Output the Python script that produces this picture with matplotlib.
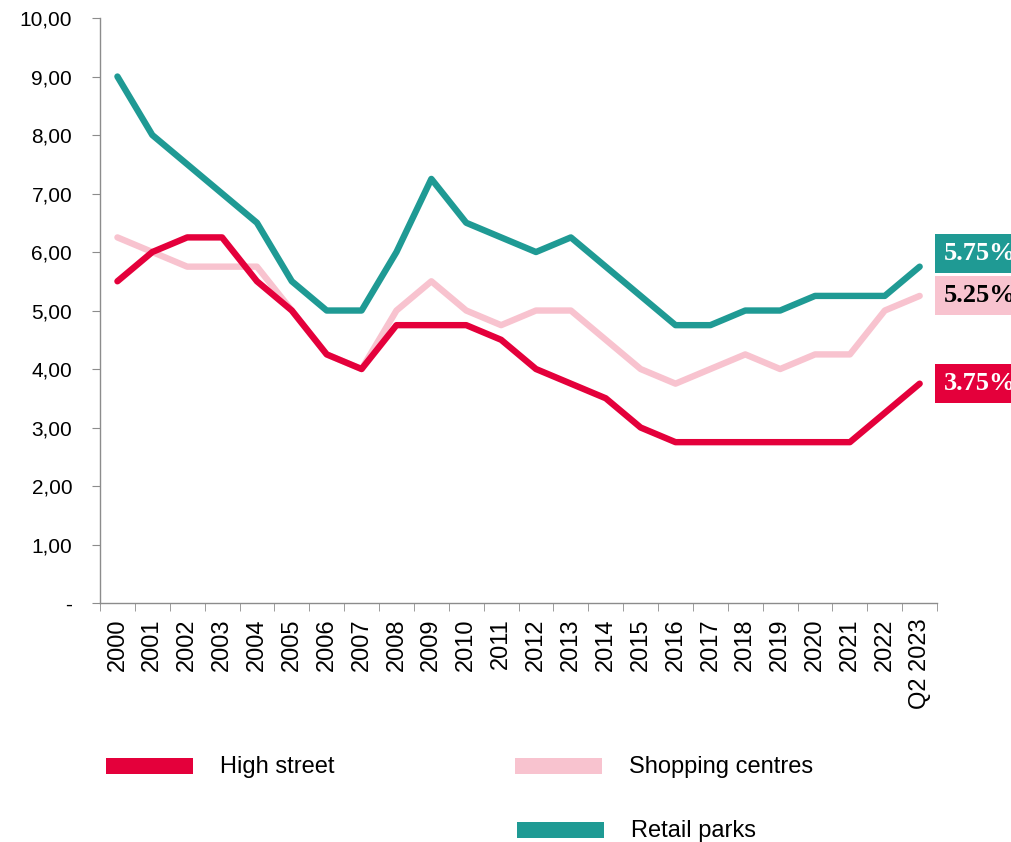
import matplotlib
matplotlib.use("Agg")
import matplotlib.pyplot as plt
from matplotlib.patches import Rectangle
import numpy as np

# data
years = [str(y) for y in range(2000, 2023)] + ["Q2 2023"]
high_street = [5.5, 6.0, 6.25, 6.25, 5.5, 5.0, 4.25, 4.0, 4.75, 4.75, 4.75, 4.5,
               4.0, 3.75, 3.5, 3.0, 2.75, 2.75, 2.75, 2.75, 2.75, 2.75, 3.25, 3.75]
shopping_centres = [6.25, 6.0, 5.75, 5.75, 5.75, 5.0, 4.25, 4.0, 5.0, 5.5, 5.0, 4.75,
                    5.0, 5.0, 4.5, 4.0, 3.75, 4.0, 4.25, 4.0, 4.25, 4.25, 5.0, 5.25]
retail_parks = [9.0, 8.0, 7.5, 7.0, 6.5, 5.5, 5.0, 5.0, 6.0, 7.25, 6.5, 6.25,
                6.0, 6.25, 5.75, 5.25, 4.75, 4.75, 5.0, 5.0, 5.25, 5.25, 5.25, 5.75]
yticks = [0, 1, 2, 3, 4, 5, 6, 7, 8, 9, 10]
ytick_labels = ["-", "1,00", "2,00", "3,00", "4,00", "5,00", "6,00", "7,00", "8,00", "9,00", "10,00"]

RED = "#E4003B"
PINK = "#F8C3CF"
TEAL = "#1F9A94"

plt.rcParams["font.family"] = ["Liberation Sans", "DejaVu Sans"]

fig = plt.figure(figsize=(10.12, 8.42), dpi=100)
ax = fig.add_axes([0.0988, 0.2838, 0.8272, 0.6948])

x = np.arange(len(years))
series = [(retail_parks, TEAL), (shopping_centres, PINK), (high_street, RED)]
for vals, col in [(shopping_centres, PINK), (high_street, RED), (retail_parks, TEAL)]:
    ax.plot(x, vals, color=col, lw=4.6, solid_capstyle="round", solid_joinstyle="round", zorder=3)

ax.set_xlim(-0.5, len(years) - 0.5)
ax.set_ylim(0, 10)

# axes styling
for s in ["top", "right"]:
    ax.spines[s].set_visible(False)
for s in ["left", "bottom"]:
    ax.spines[s].set_color("#8c8c8c")
    ax.spines[s].set_linewidth(1.0)

ax.set_yticks(yticks)
ax.set_yticklabels(ytick_labels, fontsize=15)
ax.tick_params(axis="y", length=6, color="#8c8c8c", pad=14)

ax.set_xticks(x)
ax.set_xticklabels(years, rotation=90, fontsize=17, va="top", ha="center")
ax.tick_params(axis="x", length=0, pad=11)
ax.set_xticks(np.arange(-0.5, len(years), 1.0), minor=True)
ax.tick_params(axis="x", which="minor", length=6, color="#8c8c8c")

# end labels (cut by the right edge, as in the original)
label_nudge = {TEAL: 0.23, PINK: 0.0, RED: 0.0}
for vals, col in series:
    txt_col = "black" if col == PINK else "white"
    ax.text(len(years) - 0.5 + 0.18, vals[-1] + label_nudge[col], f"{vals[-1]:.2f}%",
            ha="left", va="center", fontsize=19, fontweight="bold",
            family=["Liberation Serif", "DejaVu Serif"], color=txt_col, clip_on=False,
            bbox=dict(boxstyle="square,pad=0.3", fc=col, ec="none"), zorder=5)

# legend (manual)
W, H = 1012.0, 842.0
legend_items = [("High street", RED, 106, 766), ("Shopping centres", PINK, 515, 766),
                ("Retail parks", TEAL, 517, 830)]
for name, col, px, py in legend_items:
    fig.patches.append(Rectangle((px / W, 1 - (py + 8) / H), 87 / W, 16 / H,
                                 transform=fig.transFigure, fc=col, ec="none"))
    fig.text((px + 114) / W, 1 - (py + 1) / H, name, fontsize=17, va="center", ha="left")

fig.savefig("out.png", dpi=100)
